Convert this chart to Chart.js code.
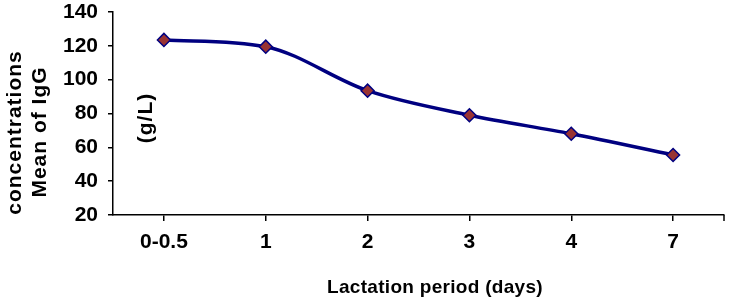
<!DOCTYPE html>
<html><head><meta charset="utf-8">
<script src="https://cdn.jsdelivr.net/npm/chart.js@4"></script>
<style>html,body{margin:0;padding:0;background:#fff}#wrap{width:735px;height:298px;position:relative}</style>
</head><body><div id="wrap"><canvas id="c"></canvas></div>
<script>
const categories = ['0-0.5', '1', '2', '3', '4', '7'];
const iggMeans = [123.5, 119.5, 93.5, 79, 68, 55.5];
const yMin = 20, yMax = 140, yStep = 20;
const yTitleLines = ['concentrations', 'Mean of IgG'];
const unitLabel = '(g/L)';
const xTitle = 'Lactation period (days)';

const FONT = '"Liberation Sans", Arial, Helvetica, sans-serif';

const annot = {
  id: 'annot',
  afterDraw(chart) {
    const ctx = chart.ctx, a = chart.chartArea;
    ctx.save();
    ctx.fillStyle = '#000';
    ctx.font = 'bold 21px ' + FONT;
    ctx.letterSpacing = '1px';
    ctx.textAlign = 'center';
    ctx.textBaseline = 'middle';
    const pos = [[15, 132.5], [40, 132]];
    yTitleLines.forEach((t, i) => {
      ctx.save();
      ctx.translate(pos[i][0], pos[i][1]);
      ctx.rotate(-Math.PI / 2);
      ctx.fillText(t, 0, 0);
      ctx.restore();
    });
    ctx.save();
    ctx.translate(a.left + 33, 118);
    ctx.rotate(-Math.PI / 2);
    ctx.fillText(unitLabel, 0, 0);
    ctx.restore();
    // x axis title
    ctx.letterSpacing = '0.3px';
    ctx.font = 'bold 19px ' + FONT;
    ctx.textBaseline = 'alphabetic';
    ctx.fillText(xTitle, 435, 293);
    // closing tick at right end of the x axis
    ctx.strokeStyle = '#000';
    ctx.lineWidth = 1.5;
    ctx.beginPath();
    ctx.moveTo(a.right, a.bottom);
    ctx.lineTo(a.right, a.bottom + 6);
    ctx.stroke();
    ctx.restore();
  }
};

new Chart(document.getElementById('c'), {
  type: 'line',
  data: {
    labels: categories,
    datasets: [{
      data: iggMeans,
      borderColor: '#000080',
      borderWidth: 3.5,
      cubicInterpolationMode: 'monotone',
      tension: 0.4,
      fill: false,
      pointStyle: 'rectRot',
      pointRadius: 6.5,
      pointHoverRadius: 6.5,
      pointBackgroundColor: '#993333',
      pointBorderColor: '#000080',
      pointBorderWidth: 1.5
    }]
  },
  options: {
    responsive: true,
    maintainAspectRatio: false,
    animation: false,
    layout: { padding: { top: 12, right: 11, left: 0, bottom: 0 } },
    plugins: { legend: { display: false }, tooltip: { enabled: false } },
    scales: {
      x: {
        offset: true,
        grid: { display: true, drawOnChartArea: false, offset: false, tickLength: 6, color: '#000', lineWidth: 1.5 },
        border: { display: true, color: '#000', width: 1.5 },
        ticks: { color: '#000', font: { family: FONT, size: 21, weight: 'bold' }, padding: 9, maxRotation: 0 },
        afterFit(s) { s.height = 83; s.paddingLeft = 0; s.paddingRight = 0; }
      },
      y: {
        min: yMin, max: yMax,
        grid: { display: true, drawOnChartArea: false, tickLength: 5, color: '#000', lineWidth: 1.5 },
        border: { display: true, color: '#000', width: 1.5 },
        ticks: { stepSize: yStep, color: '#000', font: { family: FONT, size: 21, weight: 'bold' }, padding: 10 },
        afterFit(s) { s.width = 113; s.paddingTop = 0; s.paddingBottom = 0; }
      }
    }
  },
  plugins: [annot]
});
</script>
</body></html>
